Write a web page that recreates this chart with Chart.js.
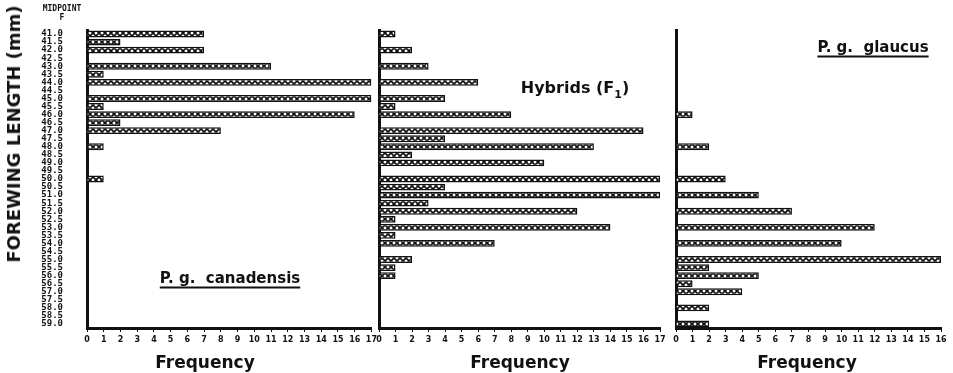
<!DOCTYPE html>
<html>
<head>
<meta charset="utf-8">
<script src="https://cdn.jsdelivr.net/npm/chart.js@4/dist/chart.umd.min.js"></script>
<style>
body { margin: 0; background: #fff; }
#wrap { position: relative; width: 953px; height: 373px; overflow: hidden; background: #fff; }
#wrap canvas { position: absolute; top: 0; }
.lbl { position: absolute; font-family: 'DejaVu Sans', sans-serif; font-weight: bold; color: #111;
       white-space: nowrap; transform: translate(-50%, -50%); line-height: 1; }
.under { text-decoration: underline; text-decoration-thickness: 2px; text-underline-offset: 4px; }
.mono { font-family: 'DejaVu Sans Mono', monospace; }
</style>
</head>
<body>
<div id="wrap">
  <canvas id="c1" width="380" height="373" style="left:0px"></canvas>
  <canvas id="c2" width="300" height="373" style="left:370px"></canvas>
  <canvas id="c3" width="285" height="373" style="left:668px"></canvas>

  <div class="lbl" style="left:14px;top:134px;font-size:18px;transform:translate(-50%,-50%) rotate(-90deg)">FOREWING LENGTH (mm)</div>
  <div class="lbl mono" style="left:62px;top:9px;font-size:8px">MIDPOINT</div>
  <div class="lbl mono" style="left:62px;top:18px;font-size:8px">F</div>

  <div class="lbl under" style="left:230px;top:278px;font-size:15px">P.&nbsp;g.&nbsp; canadensis</div>
  <div class="lbl" style="left:575px;top:90px;font-size:16px">Hybrids (F<sub style="font-size:11px">1</sub>)</div>
  <div class="lbl under" style="left:873px;top:47px;font-size:15px">P.&nbsp;g.&nbsp; glaucus</div>

  <div class="lbl" style="left:205px;top:362px;font-size:17px">Frequency</div>
  <div class="lbl" style="left:520px;top:362px;font-size:17px">Frequency</div>
  <div class="lbl" style="left:807px;top:362px;font-size:17px">Frequency</div>
</div>

<script>
// forewing length midpoints (mm)
const midpoints = ['41.0','41.5','42.0','42.5','43.0','43.5','44.0','44.5','45.0','45.5',
                   '46.0','46.5','47.0','47.5','48.0','48.5','49.0','49.5','50.0','50.5',
                   '51.0','51.5','52.0','52.5','53.0','53.5','54.0','54.5','55.0','55.5',
                   '56.0','56.5','57.0','57.5','58.0','58.5','59.0'];

const canadensis = [7, 2, 7, 0, 11, 1, 17, 0, 17, 1,
                    16, 2, 8, 0, 1, 0, 0, 0, 1, 0,
                    0, 0, 0, 0, 0, 0, 0, 0, 0, 0,
                    0, 0, 0, 0, 0, 0, 0];

const hybrids = [1, 0, 2, 0, 3, 0, 6, 0, 4, 1,
                 8, 0, 16, 4, 13, 2, 10, 0, 17, 4,
                 17, 3, 12, 1, 14, 1, 7, 0, 2, 1,
                 1, 0, 0, 0, 0, 0, 0];

const glaucus = [0, 0, 0, 0, 0, 0, 0, 0, 0, 0,
                 1, 0, 0, 0, 2, 0, 0, 0, 3, 0,
                 5, 0, 7, 0, 12, 0, 10, 0, 16, 2,
                 5, 1, 4, 0, 2, 0, 2];

const freqMax = [17, 17, 16];

function crossHatch() {
    const c = document.createElement('canvas');
    c.width = 6; c.height = 6;
    const g = c.getContext('2d');
    g.fillStyle = '#fff';
    g.fillRect(0, 0, 6, 6);
    g.strokeStyle = '#111';
    g.lineWidth = 1.7;
    g.beginPath();
    g.moveTo(0, 0); g.lineTo(6, 6);
    g.moveTo(6, 0); g.lineTo(0, 6);
    g.stroke();
    return g.createPattern(c, 'repeat');
}

function makePanel(id, values, max, padLeft, padRight, showLabels) {
    const ctx = document.getElementById(id).getContext('2d');
    return new Chart(ctx, {
        type: 'bar',
        data: {
            labels: midpoints,
            datasets: [{
                data: values,
                backgroundColor: crossHatch(),
                borderColor: '#111',
                borderWidth: 1.5,
                barPercentage: 0.85,
                categoryPercentage: 1
            }]
        },
        options: {
            indexAxis: 'y',
            responsive: false,
            animation: false,
            devicePixelRatio: 1,
            layout: { padding: { left: padLeft, right: padRight, top: 30, bottom: 0 } },
            plugins: { legend: { display: false }, tooltip: { enabled: false } },
            scales: {
                y: {
                    type: 'category',
                    offset: true,
                    grid: { drawOnChartArea: false, drawTicks: false },
                    border: { display: true, width: 3, color: '#111' },
                    ticks: {
                        display: showLabels,
                        autoSkip: false,
                        padding: 24,
                        color: '#111',
                        font: { family: 'DejaVu Sans Mono', weight: 'bold', size: 9 }
                    },
                    afterFit: s => { s.width = showLabels ? 57 : 0; }
                },
                x: {
                    type: 'linear',
                    min: 0,
                    max: max,
                    grid: { drawOnChartArea: false, tickLength: 4, color: '#111' },
                    border: { display: true, width: 3, color: '#111' },
                    ticks: {
                        stepSize: 1,
                        autoSkip: false,
                        maxRotation: 0,
                        padding: 3,
                        color: '#111',
                        font: { family: 'DejaVu Sans', weight: 'bold', size: 8 }
                    },
                    afterFit: s => { s.height = 45; }
                }
            }
        }
    });
}

makePanel('c1', canadensis, freqMax[0], 30, 8, true);
makePanel('c2', hybrids, freqMax[1], 9, 10, false);
makePanel('c3', glaucus, freqMax[2], 8, 12, false);
</script>
</body>
</html>
